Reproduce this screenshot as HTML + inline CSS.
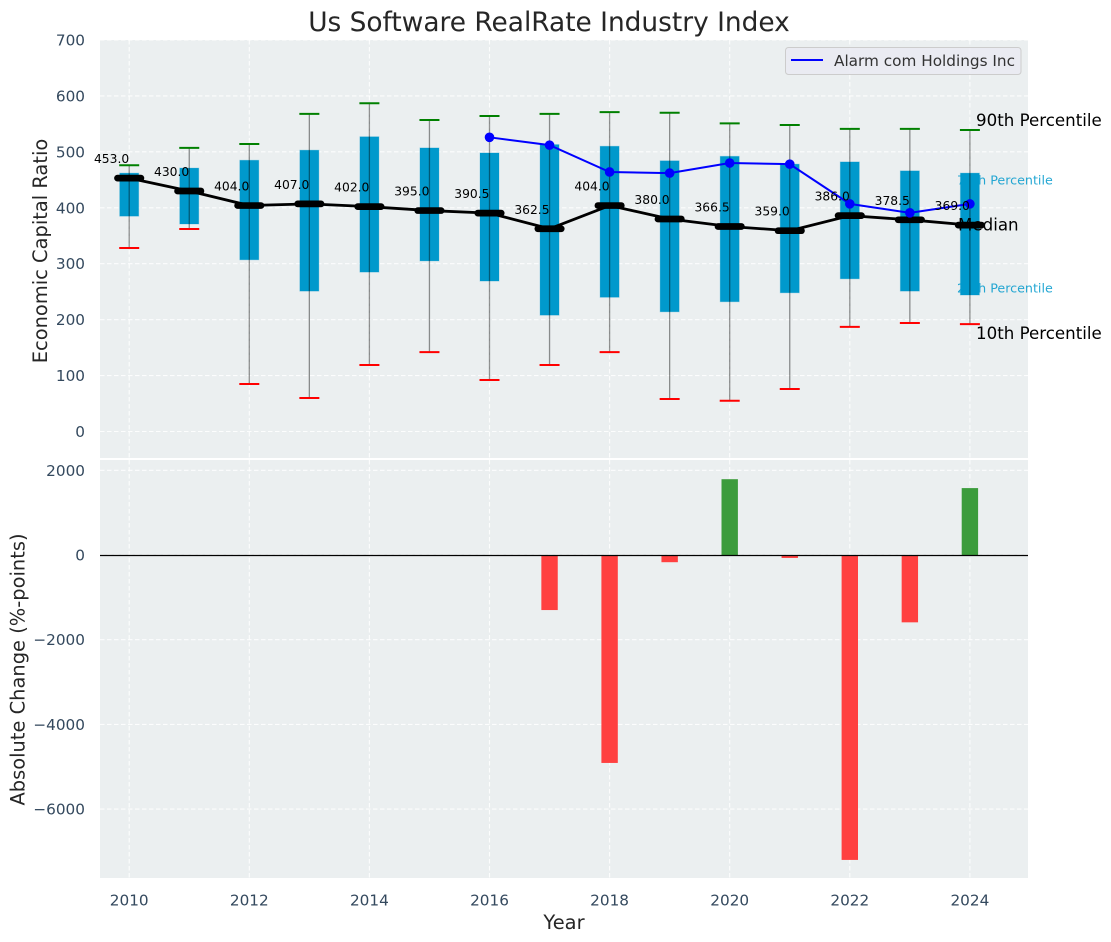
<!DOCTYPE html>
<html lang="en">
<head>
<meta charset="utf-8">
<title>Us Software RealRate Industry Index</title>
<style>
html,body{margin:0;padding:0;background:#fff;}
svg{display:block;font-family:"DejaVu Sans","Liberation Sans",sans-serif;}
</style>
</head>
<body>
<svg id="chart" width="1111" height="942" viewBox="0 0 1111 942" xmlns="http://www.w3.org/2000/svg">
  <rect x="100" y="40" width="928" height="418" fill="#ebeff0"/>
  <rect x="100" y="460" width="928" height="418" fill="#ebeff0"/>
  <g id="grid"></g>
  <g id="under">
    <text x="957" y="184.500" font-size="12.700" fill="#0099cc" fill-opacity="0.85">75th Percentile</text>
    <text x="957" y="292.500" font-size="12.700" fill="#0099cc" fill-opacity="0.85">25th Percentile</text>
  </g>
  <g id="boxes"></g>
  <g id="bars"></g>
  <line x1="100" x2="1028" y1="555.500" y2="555.500" stroke="#000" stroke-width="1.300"/>
  <g id="lines"></g>
  <g id="ticks"></g>
  <g font-size="16.670" fill="#000">
    <text x="976" y="126">90th Percentile</text>
    <text x="958" y="230.500">Median</text>
    <text x="976" y="339">10th Percentile</text>
  </g>
  <text x="549" y="31" text-anchor="middle" font-size="26.400" fill="#262626">Us Software RealRate Industry Index</text>
  <text transform="translate(47,251) rotate(-90)" text-anchor="middle" font-size="19.440" fill="#262626">Economic Capital Ratio</text>
  <text transform="translate(24.500,669.500) rotate(-90)" text-anchor="middle" font-size="19.440" fill="#262626">Absolute Change (%-points)</text>
  <text x="564" y="929" text-anchor="middle" font-size="19.440" fill="#262626">Year</text>
  <g>
    <rect x="785.500" y="47.500" width="235.500" height="27" rx="3" fill="#eaeaf2" fill-opacity="0.85" stroke="#cccccc"/>
    <line x1="791" x2="823" y1="60" y2="60" stroke="#0000ff" stroke-width="2"/>
    <text x="834" y="66" font-size="15.280" fill="#333333">Alarm com Holdings Inc</text>
  </g>
</svg>
<script>
const years = [2010,2011,2012,2013,2014,2015,2016,2017,2018,2019,2020,2021,2022,2023,2024];
const p90 = [476,507,514,568,587,557,564,568,571,570,551,548,541,541,539];
const p75 = [462,471,485,503,527,507,498,513,510,484,492,478,482,466,462];
const medianValues = [453,430,404,407,402,395,390.5,362.5,404,380,366.5,359,386,378.5,369];
const p25 = [385,371,307,251,285,305,269,208,240,214,232,248,273,251,244];
const p10 = [328,362,85,60,119,142,92,119,142,58,55,76,187,194,192];
const companyValues = [null,null,null,null,null,null,526,512,464,462,480,478,407,391,407];
const changeValues = [null,null,null,null,null,null,null,-1300,-4910,-170,1790,-70,-7200,-1590,1580];
const upperTicks = [0,100,200,300,400,500,600,700];
const lowerTicks = [2000,0,-2000,-4000,-6000];
const lowerTickLabels = ['2000','0','\u22122000','\u22124000','\u22126000'];
const xTicks = [2010,2012,2014,2016,2018,2020,2022,2024];

const NS = 'http://www.w3.org/2000/svg';
const x = v => 129.2 + (v - 2010) * 60.05;
const yU = v => 431.5 - v * 0.5593;
const yL = v => 555 - v * 0.04235;
const mk = (tag, parent, props) => {
  const el = document.createElementNS(NS, tag);
  for (const k in props) el.setAttribute(k, props[k]);
  parent.appendChild(el);
  return el;
};
const grid = document.getElementById('grid');
const boxes = document.getElementById('boxes');
const bars = document.getElementById('bars');
const lines = document.getElementById('lines');
const ticks = document.getElementById('ticks');
const gridStyle = {stroke:'#ffffff','stroke-opacity':0.85,'stroke-width':1.1,'stroke-dasharray':'4.5 2.5'};

upperTicks.forEach(t => {
  const g = mk('line', grid, Object.assign({x1:100,x2:1028,y1:yU(t),y2:yU(t)}, gridStyle));
  
  
  const l = mk('text', ticks, {x:85,y:yU(t)+5.5,'text-anchor':'end','font-size':15.28,fill:'#34495e'});
  l.textContent = String(t);
  
  
});
lowerTicks.forEach((t, i) => {
  const g = mk('line', grid, Object.assign({x1:100,x2:1028,y1:yL(t),y2:yL(t)}, gridStyle));
  
  
  const l = mk('text', ticks, {x:85,y:yL(t)+5.5,'text-anchor':'end','font-size':15.28,fill:'#34495e'});
  l.textContent = lowerTickLabels[i];
  
  
});
xTicks.forEach(t => {
  const a = mk('line', grid, Object.assign({x1:x(t),x2:x(t),y1:40,y2:458}, gridStyle));
  
  
  const b = mk('line', grid, Object.assign({x1:x(t),x2:x(t),y1:460,y2:878}, gridStyle));
  
  
  const l = mk('text', ticks, {x:x(t),y:905.5,'text-anchor':'middle','font-size':15.28,fill:'#34495e'});
  l.textContent = String(t);
  
  
});

years.forEach((yr, i) => {
  const cx = x(yr);
  const box = mk('rect', boxes, {x:cx-9.5,y:yU(p75[i]),width:19,height:yU(p25[i])-yU(p75[i]),fill:'#0099cc',stroke:'#0099cc','stroke-opacity':0.25,'stroke-width':1});
  
  
  const w = mk('line', boxes, {x1:cx,x2:cx,y1:yU(p90[i]),y2:yU(p10[i]),stroke:'#000000','stroke-opacity':0.42,'stroke-width':1.3});
  
  
  const capT = mk('line', boxes, {x1:cx-10,x2:cx+10,y1:yU(p90[i]),y2:yU(p90[i]),stroke:'#008000','stroke-width':2});
  
  
  const capB = mk('line', boxes, {x1:cx-10,x2:cx+10,y1:yU(p10[i]),y2:yU(p10[i]),stroke:'#ff0000','stroke-width':2});
  
  

  if (changeValues[i] !== null) {
    const v = changeValues[i];
    const top = Math.min(yL(v), yL(0));
    const bar = mk('rect', bars, {x:cx-8.2,y:top,width:16.4,height:Math.abs(yL(v)-yL(0)),fill:v<0?'#ff4040':'#3c9c3c'});
    
    
  }
});

const medianPath = mk('polyline', lines, {points:years.map((yr,i)=>x(yr)+','+yU(medianValues[i])).join(' '),fill:'none',stroke:'#000000','stroke-width':2.8});



years.forEach((yr, i) => {
  const m = mk('line', lines, {x1:x(yr)-11.7,x2:x(yr)+11.7,y1:yU(medianValues[i]),y2:yU(medianValues[i]),stroke:'#000000','stroke-width':6.7,'stroke-linecap':'round'});
  
  
});

const companyPath = mk('polyline', lines, {points:years.map((yr,i)=>companyValues[i]===null?'':x(yr)+','+yU(companyValues[i])).join(' ').trim(),fill:'none',stroke:'#0000ff','stroke-width':2});


years.forEach((yr, i) => {
  if (companyValues[i] === null) return;
  const c = mk('circle', lines, {cx:x(yr),cy:yU(companyValues[i]),r:4.8,fill:'#0000ff'});
  
  
});
years.forEach((yr, i) => {
  const t = mk('text', lines, {x:x(yr),y:yU(medianValues[i])-15,'text-anchor':'end','font-size':12.3,fill:'#000000'});
  t.textContent = medianValues[i].toFixed(1);
  
  
});
</script>
</body>
</html>
